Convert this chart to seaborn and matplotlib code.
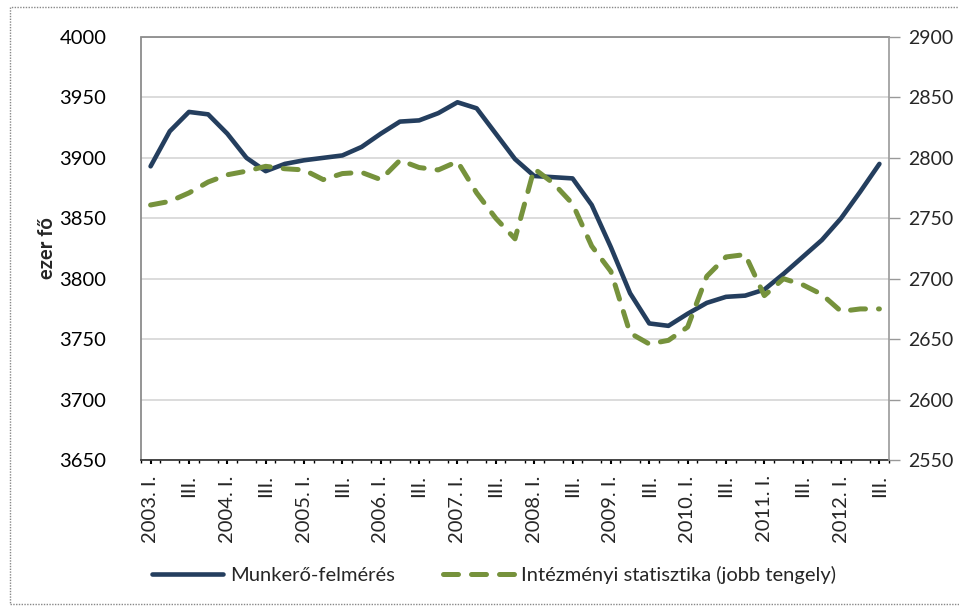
import matplotlib
matplotlib.use("Agg")
import matplotlib.pyplot as plt
import numpy as np
import pandas as pd
import seaborn as sns
from matplotlib.patches import Rectangle

# negyedéves adatok, 2003. I. - 2012. III.
munkero = [3893, 3922, 3938, 3936, 3920, 3900, 3889, 3895, 3898, 3900,
           3902, 3909, 3920, 3930, 3931, 3937, 3946, 3941, 3920, 3899,
           3885, 3884, 3883, 3861, 3826, 3788, 3763, 3761, 3771, 3780,
           3785, 3786, 3791, 3804, 3818, 3832, 3850, 3872, 3895]
intezmenyi = [2761, 2764, 2771, 2780, 2786, 2789, 2793, 2791, 2790, 2782,
              2787, 2788, 2782, 2798, 2792, 2790, 2797, 2771, 2750, 2733,
              2791, 2779, 2762, 2727, 2706, 2655, 2646, 2649, 2660, 2702,
              2718, 2720, 2686, 2700, 2695, 2687, 2673, 2675, 2675]
tick_labels = ['2003. I.', 'III.', '2004. I.', 'III.', '2005. I.', 'III.',
               '2006. I.', 'III.', '2007. I.', 'III.', '2008. I.', 'III.',
               '2009. I.', 'III.', '2010. I.', 'III.', '2011. I.', 'III.',
               '2012. I.', 'III.']
left_ticks = [3650, 3700, 3750, 3800, 3850, 3900, 3950, 4000]
right_ticks = [2550, 2600, 2650, 2700, 2750, 2800, 2850, 2900]

name_a = 'Munkerő-felmérés'
name_b = 'Intézményi statisztika (jobb tengely)'

df = pd.DataFrame({'q': np.arange(len(munkero)), 'a': munkero, 'b': intezmenyi})

sns.set_theme(style="white")
plt.rcParams['font.family'] = ['Lato', 'DejaVu Sans']
fs = 14.5
plt.rcParams['font.size'] = fs

blue = '#243e5e'
green = '#76923c'

fig = plt.figure(figsize=(9.59, 6.08), dpi=100)
ax = fig.add_axes([141/959, 1-460/608, (889-141)/959, (460-37)/608])
ax2 = ax.twinx()

sns.lineplot(data=df, x='q', y='a', ax=ax, color=blue, lw=3.3, label=name_a, legend=False)
sns.lineplot(data=df, x='q', y='b', ax=ax2, color=green, lw=3.6, label=name_b, legend=False)
ln = ax2.lines[0]
ln.set_linestyle((0, (3, 2.6)))
ln.set_dash_capstyle('round')
ax.lines[0].set_solid_capstyle('round')

ax.set_xlim(-0.5, len(munkero) - 0.5)
ax.set_ylim(3650, 4000)
ax2.set_ylim(2550, 2900)
ax.set_yticks(left_ticks)
ax2.set_yticks(right_ticks)
ax.set_xticks(np.arange(0, len(munkero), 2))
ax.set_xticklabels(tick_labels, rotation=90, va='top', ha='center')
ax.set_xticks(np.arange(-0.5, len(munkero), 1), minor=True)

ax.grid(axis='y', color='#d9d9d9', lw=1.3)
ax.set_axisbelow(True)
ax.set_xlabel('')
ax2.set_xlabel('')
ax.set_ylabel('ezer fő', fontweight='bold', fontsize=fs)
ax.yaxis.set_label_coords(-0.112, 0.5)
ax2.set_ylabel('')

ax.tick_params(axis='y', left=False, pad=19, labelsize=fs, colors='black')
ax.tick_params(axis='x', which='major', bottom=True, length=3, width=1.5, color='black', pad=8, labelsize=fs)
ax.tick_params(axis='x', which='minor', bottom=True, length=2, width=1, color='black')
ax2.tick_params(axis='y', right=True, length=8, width=1, color='#999999', pad=6, labelsize=14)

for sp in ['left', 'top']:
    ax.spines[sp].set_linestyle((0, (1, 1)))
    ax.spines[sp].set_color('#888888')
    ax2.spines[sp].set_visible(False)
ax.spines['bottom'].set_linestyle((0, (1, 1)))
ax.spines['bottom'].set_color('#333333')
ax2.spines['bottom'].set_visible(False)
ax.spines['right'].set_visible(False)
ax2.spines['right'].set_color('#999999')
ax2.spines['right'].set_linewidth(1.2)
ax2.spines['left'].set_visible(False)
ax2.spines['top'].set_visible(False)

h1, l1 = ax.get_legend_handles_labels()
h2, l2 = ax2.get_legend_handles_labels()
fig.legend(h1 + h2, l1 + l2, loc='center', bbox_to_anchor=(494/959, 1-575/608),
           ncol=2, frameon=False, handlelength=3.5, handletextpad=0.35,
           columnspacing=2.4, fontsize=fs)

# keret (jobb oldala a képen kívül esik)
fig.patches.append(Rectangle((10/959, 4/608), 960/959, 597/608, transform=fig.transFigure,
                             fill=False, ec='#888888', lw=1, ls=(0, (1, 1))))

fig.savefig('out.png', dpi=100)
